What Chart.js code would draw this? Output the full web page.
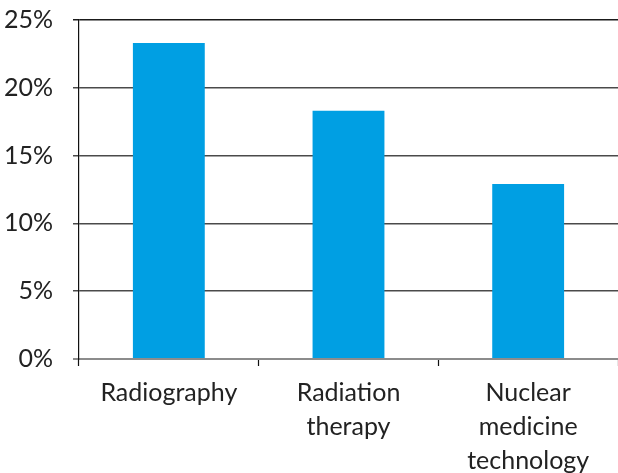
<!DOCTYPE html>
<html>
<head>
<meta charset="utf-8">
<script src="https://cdn.jsdelivr.net/npm/chart.js@4"></script>
<style>
  html, body { margin: 0; padding: 0; background: #fff; }
</style>
</head>
<body>
<canvas id="chart" width="618" height="473"></canvas>
<script>
const categories = [['Radiography'], ['Radiation', 'therapy'], ['Nuclear', 'medicine', 'technology']];
const shares = [23.3, 18.3, 12.9];
const yTicks = [0, 5, 10, 15, 20, 25];

const labelFont = { family: 'Lato, "Open Sans", sans-serif', size: 25, lineHeight: 1.36 };

const chart = new Chart(document.getElementById('chart'), {
  type: 'bar',
  data: {
    labels: categories,
    datasets: [{
      data: shares,
      backgroundColor: '#009fe3',
      borderWidth: 0,
      categoryPercentage: 1,
      barPercentage: 0.4
    }]
  },
  options: {
    responsive: false,
    animation: false,
    layout: { padding: { top: 20, right: 0, left: 0, bottom: 0 } },
    plugins: { legend: { display: false }, tooltip: { enabled: false } },
    scales: {
      x: {
        grid: {
          offset: true,
          drawOnChartArea: false,
          tickLength: 7,
          tickColor: '#111',
          tickWidth: 1.2
        },
        border: { color: '#8c8c8c', width: 2 },
        ticks: {
          color: '#222',
          font: labelFont,
          padding: 10,
          maxRotation: 0,
          autoSkip: false
        },
        afterFit(scale) {
          scale.height = 114;
          scale.paddingLeft = 0;
          scale.paddingRight = 0;
        }
      },
      y: {
        min: 0,
        max: 25,
        afterBuildTicks(scale) {
          scale.ticks = yTicks.map(v => ({ value: v }));
        },
        grid: {
          tickLength: 6,
          lineWidth: ctx => (ctx.tick && ctx.tick.value === 0 ? 2 : 1.5),
          color: ctx => {
            if (!ctx.tick) return '#444';
            if (ctx.tick.value === 0) return '#8c8c8c';
            if (ctx.tick.value === 25) return '#1a1a1a';
            return '#4a4a4a';
          }
        },
        border: { color: '#111', width: 1.2 },
        ticks: {
          color: '#222',
          font: labelFont,
          padding: 20,
          callback: v => v + '%'
        },
        afterFit(scale) {
          scale.width = 79;
          scale.paddingTop = 0;
          scale.paddingBottom = 0;
        }
      }
    }
  }
});
</script>
</body>
</html>
